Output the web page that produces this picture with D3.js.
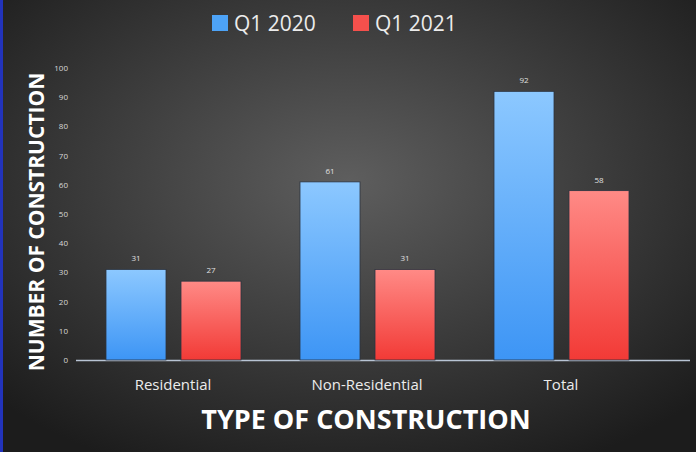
<!DOCTYPE html>
<html><head><meta charset="utf-8">
<script src="https://cdn.jsdelivr.net/npm/d3@7"></script>
<style>body{margin:0;background:#2a2a2a}svg{display:block;font-family:"Open Sans",Calibri,sans-serif}</style>
</head><body><div id="chart"></div>
<script>
const categories = ["Residential", "Non-Residential", "Total"];
const seriesNames = ["Q1 2020", "Q1 2021"];
const q2020 = [31, 61, 92];
const q2021 = [27, 31, 58];
const yTicks = [0, 10, 20, 30, 40, 50, 60, 70, 80, 90, 100];

const W = 696, H = 452;
const svg = d3.select("#chart").append("svg").attr("width", W).attr("height", H);
const defs = svg.append("defs");
const bg = defs.append("radialGradient").attr("id", "bg").attr("cx", "50%").attr("cy", "40%").attr("r", "70%");
bg.append("stop").attr("offset", "0%").attr("stop-color", "#5e5e5e");
bg.append("stop").attr("offset", "100%").attr("stop-color", "#1c1c1c");
const gb = defs.append("linearGradient").attr("id", "gb").attr("x1", 0).attr("x2", 0).attr("y1", 0).attr("y2", 1);
gb.append("stop").attr("offset", "0%").attr("stop-color", "#8cc8ff");
gb.append("stop").attr("offset", "100%").attr("stop-color", "#3d95f5");
const gr = defs.append("linearGradient").attr("id", "gr").attr("x1", 0).attr("x2", 0).attr("y1", 0).attr("y2", 1);
gr.append("stop").attr("offset", "0%").attr("stop-color", "#ff8a86");
gr.append("stop").attr("offset", "100%").attr("stop-color", "#f23a36");

svg.append("rect").attr("width", W).attr("height", H).attr("fill", "url(#bg)");
svg.append("rect").attr("x", 0).attr("y", 0).attr("width", 3).attr("height", H).attr("fill", "#2233bb");

const x0 = d3.scaleBand().domain(categories).range([76, 658]);
const x1 = d3.scaleBand().domain(seriesNames).range([30, 165]).paddingInner(0.2);
const y = d3.scaleLinear().domain([0, 100]).range([360, 68]);

svg.append("g").selectAll("text").data(yTicks).join("text")
  .attr("x", 68).attr("y", d => y(d) + 3).attr("text-anchor", "end")
  .attr("fill", "#d8d8d8").attr("font-size", 8).text(d => d);

svg.append("line").attr("x1", 76).attr("x2", 690).attr("y1", 360.5).attr("y2", 360.5)
  .attr("stroke", "#b8c4d4").attr("stroke-width", 1.5);

const series = [{name: "Q1 2020", vals: q2020, fill: "url(#gb)"}, {name: "Q1 2021", vals: q2021, fill: "url(#gr)"}];
series.forEach(s => {
  const g = svg.append("g");
  g.selectAll("rect").data(categories).join("rect")
    .attr("x", (c) => x0(c) + x1(s.name)).attr("width", x1.bandwidth())
    .attr("y", (c, i) => y(s.vals[i])).attr("height", (c, i) => y(0) - y(s.vals[i]))
    .attr("fill", s.fill).attr("stroke", "#2c3440").attr("stroke-width", 0.8);
  g.selectAll("text").data(categories).join("text")
    .attr("x", c => x0(c) + x1(s.name) + x1.bandwidth() / 2)
    .attr("y", (c, i) => y(s.vals[i]) - 8).attr("text-anchor", "middle")
    .attr("fill", "#e0e0e0").attr("font-size", 8).text((c, i) => s.vals[i]);
});

svg.append("g").selectAll("text").data(categories).join("text")
  .attr("x", c => x0(c) + x0.bandwidth() / 2).attr("y", 390).attr("text-anchor", "middle")
  .attr("fill", "#ececec").attr("font-size", 15).text(c => c);

svg.append("text").attr("x", 366).attr("y", 429).attr("text-anchor", "middle")
  .attr("fill", "#ffffff").attr("font-size", 27).attr("font-weight", "bold").text("TYPE OF CONSTRUCTION");
svg.append("text").attr("transform", "translate(44,222) rotate(-90)").attr("text-anchor", "middle")
  .attr("fill", "#ffffff").attr("font-size", 21).attr("font-weight", "bold").text("NUMBER OF CONSTRUCTION");

const legend = svg.append("g");
[{n: seriesNames[0], c: "#4da3f7", x: 212}, {n: seriesNames[1], c: "#f5504c", x: 353}].forEach(l => {
  legend.append("rect").attr("x", l.x).attr("y", 15).attr("width", 16).attr("height", 16).attr("fill", l.c);
  legend.append("text").attr("x", l.x + 22).attr("y", 31).attr("fill", "#ececec").attr("font-size", 21).text(l.n);
});
</script></body></html>
